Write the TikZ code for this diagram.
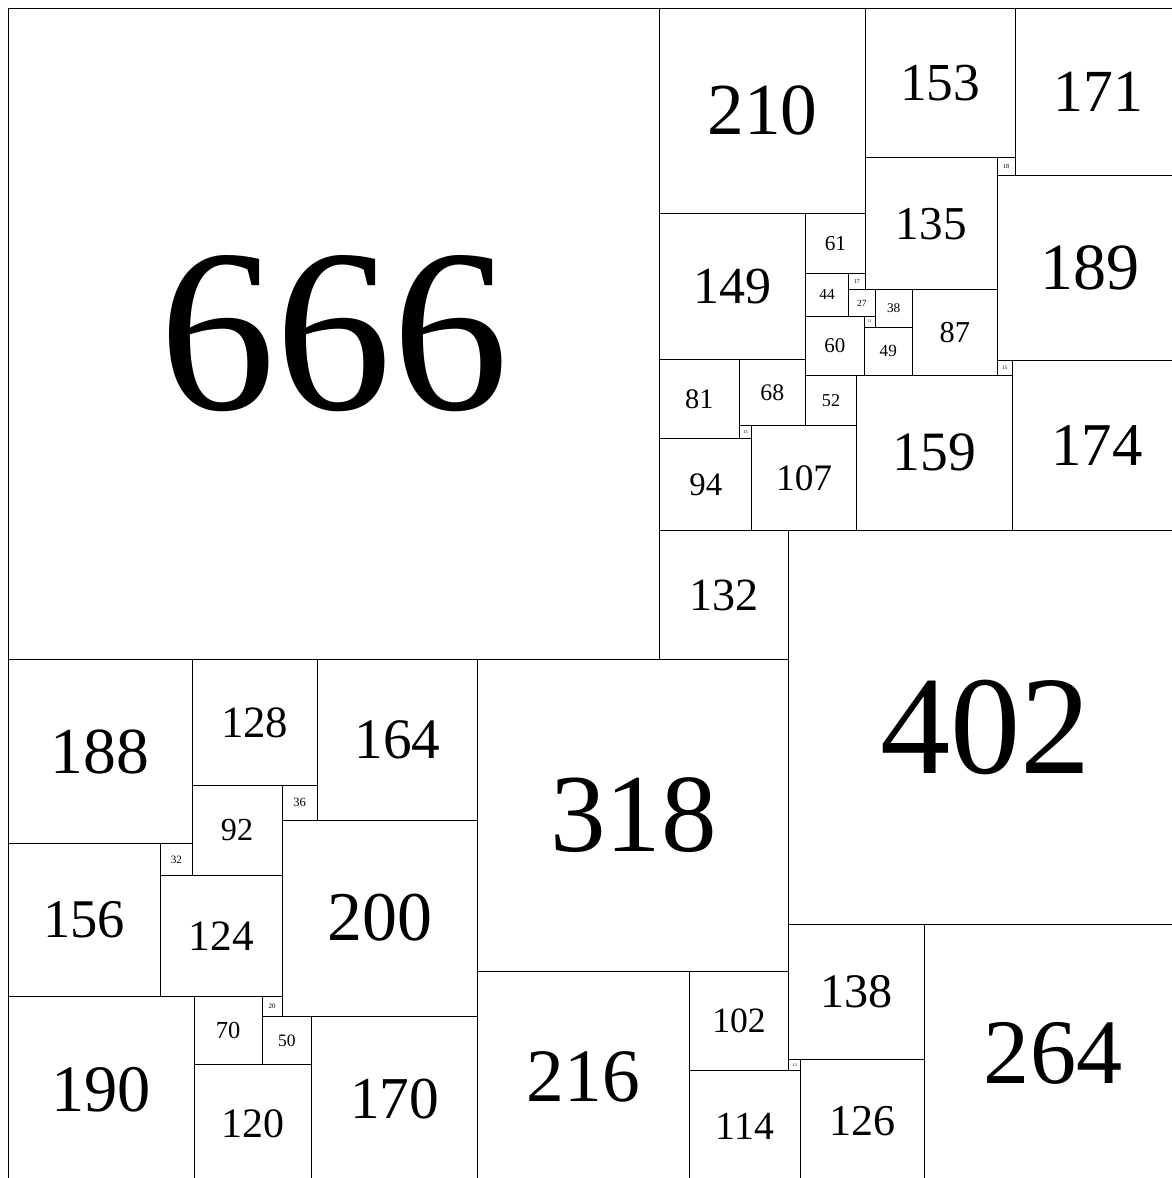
\documentclass[tikz,border=0pt]{standalone}
\usepackage{fontspec}
\setmainfont{Liberation Serif}

\tikzset{
  sq/.style={draw, line width=0.9pt, inner sep=0pt, outer sep=0pt}
}

\begin{document}
\begin{tikzpicture}[x=1pt,y=-1pt]
        \useasboundingbox (-8.2,-8.2) rectangle (1189.4,1195.6);
        \clip (-8.2,-8.2) rectangle (1189.4,1195.6);
        % squares: left x / top y / side
        \foreach \x/\y/\s in {0/0/666, 666/0/210, 876/0/153, 1029/0/171,
            1011/153/18, 876/153/135, 1011/171/189, 666/210/149,
            815/210/61, 815/271/44, 859/271/17, 859/288/27, 886/288/38,
            924/288/87, 875/315/11, 815/315/60, 875/326/49, 1011/360/15,
            1026/360/174, 867/375/159, 815/375/52, 666/359/81, 747/359/68,
            747/427/13, 666/440/94, 760/427/107, 666/534/132, 798/534/402,
            0/666/188, 188/666/128, 316/666/164, 480/666/318, 188/794/92,
            280/794/36, 156/854/32, 0/854/156, 156/886/124, 280/830/200,
            0/1010/190, 190/1010/70, 260/1010/20, 260/1030/50, 190/1080/120,
            310/1030/170, 480/984/216, 696/984/102, 798/936/138, 936/936/264,
            696/1086/114, 810/1074/126, 798/1074/12}{
            \pgfmathsetmacro\fs{0.357*\s}
            \node[sq, minimum size=\s pt,
                font=\fontsize{\fs pt}{\fs pt}\selectfont]
                (q\s) at (\x+\s/2,\y+\s/2) {\s};
        }
    \end{tikzpicture}
\end{document}
